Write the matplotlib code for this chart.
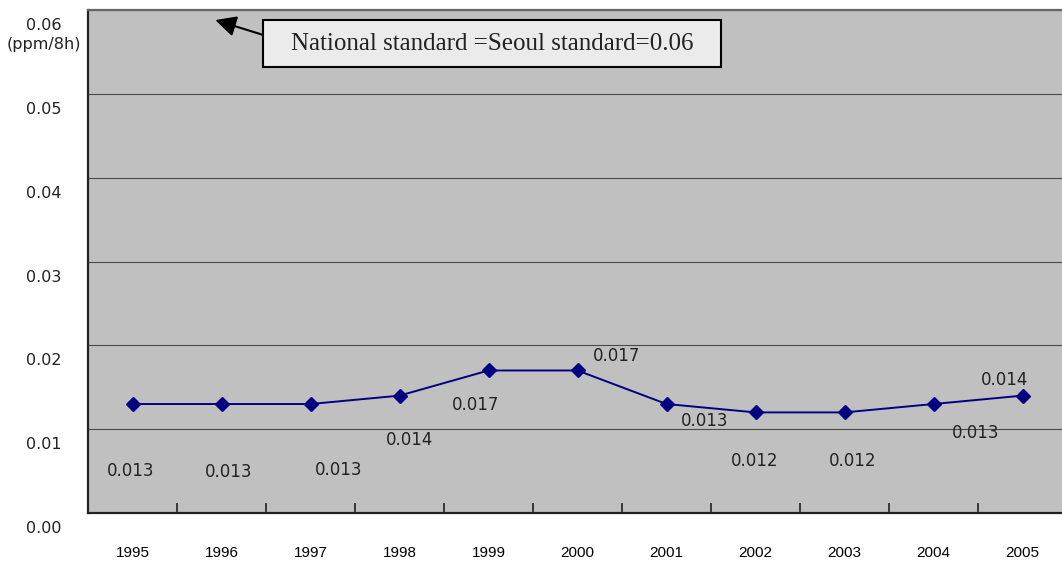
import numpy as np
import matplotlib.pyplot as plt
import matplotlib.transforms as mtransforms
from matplotlib.path import Path

# annual 8-hour CO concentration (ppm)
years = ['1995', '1996', '1997', '1998', '1999', '2000',
         '2001', '2002', '2003', '2004', '2005']
values = [0.013, 0.013, 0.013, 0.014, 0.017, 0.017,
          0.013, 0.012, 0.012, 0.013, 0.014]
yticks = [0.00, 0.01, 0.02, 0.03, 0.04, 0.05, 0.06]
ytick_labels = ['0.00', '0.01', '0.02', '0.03', '0.04', '0.05', '0.06\n(ppm/8h)']
standard_text = 'National standard =Seoul standard=0.06'

# where each value label sits relative to its marker (pixels, +y is up)
label_offsets = [(-2, -67), (7, -68), (28, -66), (10, -44), (-13, -35), (39, 14),
                 (38, -17), (-1, -49), (8, -49), (42, -29), (-18, 16)]


def wide_box(x0, y0, width, height, mutation_size):
    # rectangle with more room left/right than above/below the text
    px, py = 1.12 * mutation_size, 0.5 * mutation_size
    x0, y0 = x0 - px, y0 - py
    x1, y1 = x0 + width + 2 * px, y0 + height + 2 * py
    return Path([(x0, y0), (x1, y0), (x1, y1), (x0, y1), (x0, y0)], closed=True)


fig = plt.figure(figsize=(10.62, 5.65), dpi=100)
ax = fig.add_axes([88 / 1062, 52 / 565, 979 / 1062, 503 / 565])
ax.set_facecolor('#c0c0c0')

x = np.arange(len(years))
ax.plot(x, values, color='#000080', lw=1.4, marker='D', ms=7.5,
        mfc='#000080', mec='#000080', zorder=3)

for xi, v, (dx, dy) in zip(x, values, label_offsets):
    ax.annotate(f'{v:.3f}', xy=(xi, v), xytext=(dx, dy), textcoords='offset pixels',
                ha='center', va='center', fontsize=12, color='#222222')

ax.set_xlim(-0.5, len(years) - 0.5)
ax.set_ylim(0, 0.06)

# y axis: gridlines, labels centred left of the axis and dropped below each line
ax.set_yticks(yticks)
ax.set_yticklabels(ytick_labels)
ax.yaxis.grid(True, color='#4a4a4a', lw=0.8)
ax.set_axisbelow(True)
ax.tick_params(axis='y', length=0, pad=32, labelsize=11.5, labelcolor='#222222')
drop = mtransforms.ScaledTranslation(0, -0.08, fig.dpi_scale_trans)
for lab in ax.get_yticklabels():
    lab.set_ha('center')
    lab.set_va('top')
    lab.set_linespacing(1.3)
    lab.set_transform(lab.get_transform() + drop)

# x axis: year labels under categories, small inward ticks between them
ax.set_xticks(x)
ax.set_xticklabels(years)
ax.set_xticks(x[:-1] + 0.5, minor=True)
ax.tick_params(axis='x', which='major', length=0, pad=24, labelsize=11)
ax.tick_params(axis='x', which='minor', direction='in', length=7, width=1.2, color='#222222')
for lab in ax.get_xticklabels():
    lab.set_fontfamily('Liberation Sans')

for side in ['left', 'bottom']:
    ax.spines[side].set_color('#222222')
    ax.spines[side].set_linewidth(1.6)
ax.spines['top'].set_color('#666666')
ax.spines['top'].set_linewidth(1.6)
ax.spines['right'].set_visible(False)

ax.annotate(standard_text, xy=(0.93, 0.0588), xytext=(4.04, 0.0560),
            ha='center', va='center', fontsize=18, family='Liberation Serif', color='#222222',
            bbox=dict(boxstyle=wide_box, fc='#ebebeb', ec='black', lw=1.5),
            arrowprops=dict(arrowstyle='-|>,head_length=0.7,head_width=0.35', color='black',
                            lw=1.5, relpos=(0, 0.5), shrinkA=0, shrinkB=0))

fig.savefig('out.png', dpi=100)
